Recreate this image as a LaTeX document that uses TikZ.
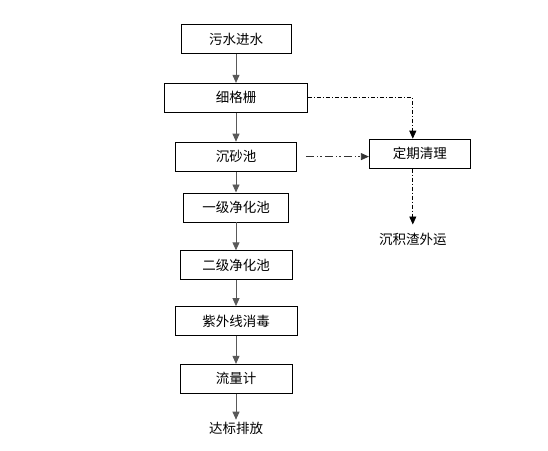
\documentclass[tikz,border=0pt]{standalone}
\usepackage{fontspec}
\newfontfamily\cjk{Noto Sans CJK SC}
\usetikzlibrary{positioning, arrows.meta}

\begin{document}
\begin{tikzpicture}[x=1pt, y=1pt,
        box/.style={draw, rectangle, minimum height=29pt, inner sep=0pt, line width=0.8pt, font=\cjk\fontsize{13.5}{15}\selectfont},
        txt/.style={inner sep=2pt, font=\cjk\fontsize{13.5}{15}\selectfont},
        arrow/.style={-{Triangle[length=8pt, width=7pt]}, line width=0.9pt, draw=black!65},
        dasharrow/.style={-{Triangle[length=8pt, width=7pt]}, line width=0.8pt, dash pattern=on 4pt off 2pt on 1pt off 2pt},
        dotarrow/.style={-{Triangle[length=8pt, width=7pt]}, line width=0.8pt, draw=black!80, dash pattern=on 8pt off 3pt on 1.5pt off 2pt on 1.5pt off 3pt}
    ]
    \useasboundingbox (0,0) rectangle (548,-450);
    \node[box, minimum width=110pt] (inlet) at (236,-39) {污水进水};
    \node[box, minimum width=143pt, below=29pt of inlet] (grille) {细格栅};
    \node[box, minimum width=121pt, below=29pt of grille] (sand) {沉砂池};
    \node[box, minimum width=105pt, below=21pt of sand] (first) {一级净化池};
    \node[box, minimum width=112pt, below=28pt of first] (second) {二级净化池};
    \node[box, minimum width=122pt, below=26pt of second] (uv) {紫外线消毒};
    \node[box, minimum width=112pt, below=28pt of uv] (meter) {流量计};
    \node[txt, below=26pt of meter] (outlet) {达标排放};
    \node[box, minimum width=101pt, right=72pt of sand, yshift=3pt] (clean) {定期清理};
    \node[txt, below=62pt of clean, xshift=-7pt] (slag) {沉积渣外运};

    \draw[arrow] (inlet) -- (grille);
    \draw[arrow] (grille) -- (sand);
    \draw[arrow] (sand) -- (first);
    \draw[arrow] (first) -- (second);
    \draw[arrow] (second) -- (uv);
    \draw[arrow] (uv) -- (meter);
    \draw[arrow] (meter) -- (outlet);
    \draw[dasharrow] (grille.east) -| (clean.north -| slag);
    \draw[dotarrow, shorten <=9pt] (sand.east) -- (sand.east -| clean.west);
    \draw[dasharrow, shorten >=6pt] (clean.south -| slag) -- (slag);
\end{tikzpicture}
\end{document}
